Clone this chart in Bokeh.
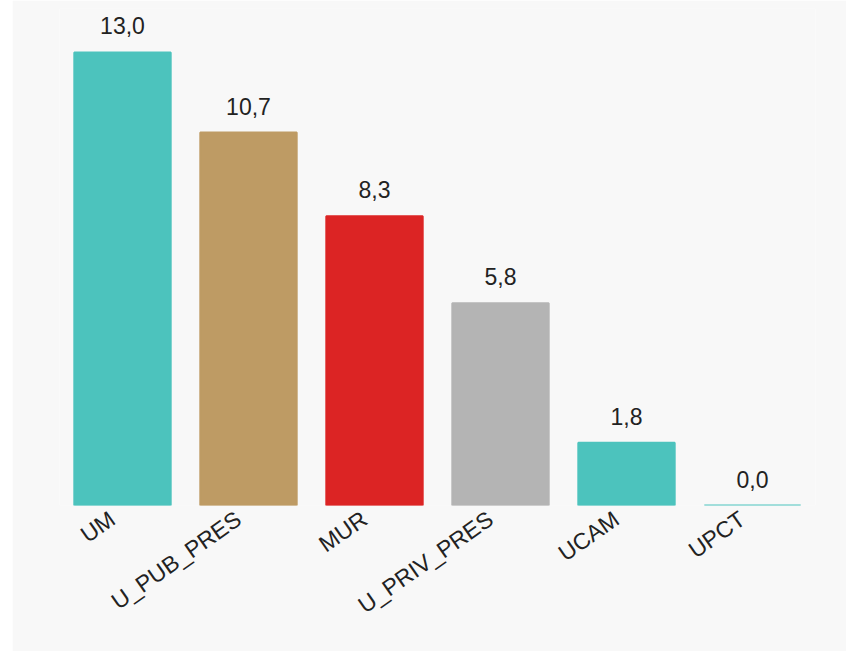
import math
from bokeh.plotting import figure
from bokeh.models import (ColumnDataSource, Range1d, LabelSet, Spacer,
                          LinearAxis, FixedTicker)
from bokeh.layouts import row
from bokeh.core.properties import value
from bokeh.embed import file_html
from bokeh.resources import INLINE

categories = ["UM", "U_PUB_PRES", "MUR", "U_PRIV_PRES", "UCAM", "UPCT"]
values = [13.0, 10.7, 8.3, 5.8, 1.8, 0.0]
colors = ["#4CC3BD", "#BE9B64", "#DC2424", "#B4B4B4", "#4CC3BD", "#4CC3BD"]
labels = [f"{v:.1f}".replace(".", ",") for v in values]

n = len(categories)
xpos = [i + 0.5 for i in range(n)]  # centre of each category slot

src = ColumnDataSource(dict(x=xpos, cat=categories, val=values, color=colors, label=labels))

FONT = "Liberation Sans"

p = figure(width=834, height=651, x_range=Range1d(0, n),
           y_range=Range1d(0, 14.26), output_backend="svg", toolbar_location=None,
           min_border_left=47, min_border_right=31, min_border_top=8, min_border_bottom=146)
p.background_fill_color = "#F8F8F8"
p.border_fill_color = "#F8F8F8"
p.outline_line_color = None

p.vbar(x="x", top="val", bottom=0, width=0.765, fill_color="color",
       line_color="color", line_width=2, source=src)

vals = LabelSet(x="x", y="val", text="label", source=src, text_align="center",
                text_baseline="alphabetic", y_offset=18, text_font=value(FONT),
                text_font_size="23px", text_color="#222222")
p.add_layout(vals)

p.yaxis.visible = False
p.xaxis.visible = False
p.xgrid.visible = False
p.ygrid.visible = False

# label axis: range shifted slightly so rotated labels sit left of bar centres
shift = 0.08
p.extra_x_ranges = {"lab": Range1d(shift, n + shift)}
lab_axis = LinearAxis(x_range_name="lab", ticker=FixedTicker(ticks=xpos),
                      major_label_overrides={t: c for t, c in zip(xpos, categories)})
lab_axis.axis_line_color = None
lab_axis.major_tick_line_color = None
lab_axis.minor_tick_line_color = None
lab_axis.major_label_orientation = math.radians(35)
lab_axis.major_label_text_font = FONT
lab_axis.major_label_text_font_size = "23px"
lab_axis.major_label_text_color = "#222222"
lab_axis.major_label_standoff = 5
p.add_layout(lab_axis, "below")

sp = Spacer(width=12, height=651, background="#FFFFFF")
layout = row(sp, p, spacing=0)

open("out.html", "w").write(file_html(layout, INLINE))
